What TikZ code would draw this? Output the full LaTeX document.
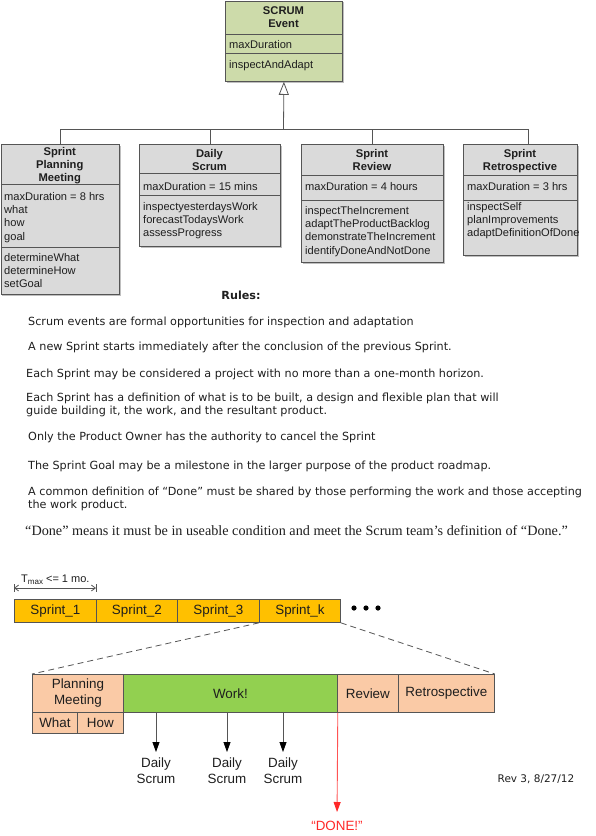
\documentclass[tikz,border=0pt]{standalone}
\usepackage{fontspec}
\setmainfont{Liberation Sans}
\newfontfamily\verdfont{DejaVu Sans}
\newfontfamily\cambfont{Liberation Serif}
\usetikzlibrary{arrows.meta,shadows}
\definecolor{evgreen}{RGB}{205,219,170}
\definecolor{umlgray}{RGB}{218,218,218}
\definecolor{bord}{RGB}{85,85,85}
\definecolor{txt}{RGB}{30,30,30}
\definecolor{sprintor}{RGB}{255,192,0}
\definecolor{peach}{RGB}{250,202,166}
\definecolor{workgreen}{RGB}{146,208,80}
\definecolor{donered}{RGB}{255,40,40}
\begin{document}
\begin{tikzpicture}[x=1pt,y=-1pt,
 umlbox/.style={draw=bord, line width=0.8pt, rectangle, inner sep=0, anchor=north west,
   drop shadow={shadow xshift=1.2pt, shadow yshift=-1.2pt, fill=black, opacity=0.25}},
 ut/.style={font=\fontsize{11.1}{13}\selectfont, inner sep=0, anchor=base west, text=txt},
 utb/.style={font=\bfseries\fontsize{11.2}{13}\selectfont, inner sep=0, anchor=base, text=txt},
 sepline/.style={draw=bord, line width=0.8pt},
 conn/.style={draw=bord, line width=0.8pt},
 rule/.style={font=\verdfont\fontsize{11.2}{13}\selectfont, inner sep=0, anchor=base west, text=txt},
 sprint/.style={draw=bord, line width=0.8pt, fill=sprintor, minimum height=23pt, inner sep=0,
   anchor=north west, font=\fontsize{13.4}{16}\selectfont, text=txt},
 phase/.style={draw=bord, line width=0.8pt, fill=peach, inner sep=0, anchor=north west,
   font=\fontsize{13.4}{16}\selectfont, align=center, text=txt},
 dslabel/.style={font=\fontsize{13.4}{16}\selectfont, align=center, inner sep=0, anchor=north, text=txt},
 dsarrow/.style={draw=bord, line width=0.8pt, shorten >=6pt, -{Triangle[length=10pt,width=7pt,color=black]}},
 dashconn/.style={draw=bord, line width=0.8pt, dash pattern=on 6pt off 4pt}
]
\useasboundingbox (0,0) rectangle (595,836);

% ---------- UML boxes ----------
\node[umlbox, fill=evgreen, minimum width=117pt, minimum height=80.5pt] (event) at (225,0.5) {};
\node[umlbox, fill=umlgray, minimum width=118.5pt, minimum height=150pt] (plan) at (0.5,144) {};
\node[umlbox, fill=umlgray, minimum width=141pt, minimum height=102pt] (daily) at (139,144) {};
\node[umlbox, fill=umlgray, minimum width=142pt, minimum height=118pt] (review) at (301,144) {};
\node[umlbox, fill=umlgray, minimum width=114pt, minimum height=111pt] (retro) at (463,144) {};

% separators
\draw[sepline] (event.west |- 0,34) -- (event.east |- 0,34);
\draw[sepline] (event.west |- 0,53) -- (event.east |- 0,53);
\draw[sepline] (plan.west |- 0,184) -- (plan.east |- 0,184);
\draw[sepline] (plan.west |- 0,247) -- (plan.east |- 0,247);
\draw[sepline] (daily.west |- 0,173) -- (daily.east |- 0,173);
\draw[sepline] (daily.west |- 0,195) -- (daily.east |- 0,195);
\draw[sepline] (review.west |- 0,175) -- (review.east |- 0,175);
\draw[sepline] (review.west |- 0,200) -- (review.east |- 0,200);
\draw[sepline] (retro.west |- 0,175) -- (retro.east |- 0,175);
\draw[sepline] (retro.west |- 0,200) -- (retro.east |- 0,200);

% event texts
\node[utb] (evt1) at (283.5,14) {SCRUM};
\node[utb] (evt2) at (283.5,27) {Event};
\node[ut] (eva1) at (229,48) {maxDuration};
\node[ut] (evo1) at (229,68) {inspectAndAdapt};

% planning texts
\node[utb] (plt1) at (59.75,155) {Sprint};
\node[utb] (plt2) at (59.75,168.3) {Planning};
\node[utb] (plt3) at (59.75,181.6) {Meeting};
\node[ut] (pla1) at (4,200) {maxDuration = 8 hrs};
\node[ut] (pla2) at (4,213.3) {what};
\node[ut] (pla3) at (4,226.6) {how};
\node[ut] (pla4) at (4,240) {goal};
\node[ut] (plo1) at (4,261) {determineWhat};
\node[ut] (plo2) at (4,274.3) {determineHow};
\node[ut] (plo3) at (4,287.6) {setGoal};

% daily texts
\node[utb] (dat1) at (209.5,157) {Daily};
\node[utb] (dat2) at (209.5,170) {Scrum};
\node[ut] (daa1) at (143,190) {maxDuration = 15 mins};
\node[ut] (dao1) at (143,210) {inspectyesterdaysWork};
\node[ut] (dao2) at (143,223.3) {forecastTodaysWork};
\node[ut] (dao3) at (143,236.6) {assessProgress};

% review texts
\node[utb] (rvt1) at (372,157) {Sprint};
\node[utb] (rvt2) at (372,170) {Review};
\node[ut] (rva1) at (305,190) {maxDuration = 4 hours};
\node[ut] (rvo1) at (305,214) {inspectTheIncrement};
\node[ut] (rvo2) at (305,227.3) {adaptTheProductBacklog};
\node[ut] (rvo3) at (305,240.6) {demonstrateTheIncrement};
\node[ut] (rvo4) at (305,254) {identifyDoneAndNotDone};

% retro texts
\node[utb] (rtt1) at (520,157) {Sprint};
\node[utb] (rtt2) at (520,170) {Retrospective};
\node[ut] (rta1) at (467,190) {maxDuration = 3 hrs};
\node[ut] (rto1) at (467,210) {inspectSelf};
\node[ut] (rto2) at (467,223.3) {planImprovements};
\node[ut] (rto3) at (467,236.6) {adaptDefinitionOfDone};

% inheritance connectors
\coordinate (bus) at (283.5,129);
\coordinate (rdrop) at (528,144);
\draw[conn] (plan.north) -- (plan.north |- bus) -- (rdrop |- bus) -- (rdrop);
\draw[conn] (daily.north) -- (daily.north |- bus);
\draw[conn] (review.north) -- (review.north |- bus);
\draw[conn, -{Triangle[open, length=13pt, width=10pt, fill=white]}] (bus) -- (event.south);

% ---------- Rules ----------
\node[font=\verdfont\bfseries\fontsize{11.2}{13}\selectfont, inner sep=0, anchor=base, text=txt] (rules) at (241,299) {Rules:};
\node[rule] (r1) at (28,325) {Scrum events are formal opportunities for inspection and adaptation};
\node[rule] (r2) at (28,350) {A new Sprint starts immediately after the conclusion of the previous Sprint.};
\node[rule] (r3) at (26,377) {Each Sprint may be considered a project with no more than a one-month horizon.};
\node[rule] (r4) at (26,401) {Each Sprint has a definition of what is to be built, a design and flexible plan that will};
\node[rule] (r5) at (26,414) {guide building it, the work, and the resultant product.};
\node[rule] (r6) at (28,440) {Only the Product Owner has the authority to cancel the Sprint};
\node[rule] (r7) at (28,469) {The Sprint Goal may be a milestone in the larger purpose of the product roadmap.};
\node[rule] (r8) at (28,495) {A common definition of “Done” must be shared by those performing the work and those accepting};
\node[rule] (r9) at (28,508) {the work product.};
\node[font=\cambfont\fontsize{14.2}{16}\selectfont, inner sep=0, anchor=base west, text=txt] (r10) at (25,535) {“Done” means it must be in useable condition and meet the Scrum team’s definition of “Done.”};

% ---------- Sprint bar ----------
\node[sprint, minimum width=82pt] (s1) at (14,599) {Sprint\_1};
\node[sprint, minimum width=81pt] (s2) at (96,599) {Sprint\_2};
\node[sprint, minimum width=82pt] (s3) at (177,599) {Sprint\_3};
\node[sprint, minimum width=81pt] (sk) at (259,599) {Sprint\_k};
\fill[black] (354,608) circle (2.6pt) (366,608) circle (2.6pt) (378,608) circle (2.6pt);

% Tmax dimension
\coordinate (tm1) at (14,588);
\coordinate (tm2) at (96,588);
\draw[conn, {Straight Barb[length=4pt,width=6pt]}-{Straight Barb[length=4pt,width=6pt]}] (tm1) -- (tm2);
\draw[conn] ([yshift=4pt]tm1) -- ([yshift=-4pt]tm1);
\draw[conn] ([yshift=4pt]tm2) -- ([yshift=-4pt]tm2);
\node[font=\fontsize{11}{13}\selectfont, inner sep=0, anchor=base west, text=txt] (tmax) at (21,582)
  {T\raisebox{-2pt}{\fontsize{8}{8}\selectfont max} <= 1 mo.};

% ---------- Sprint phases ----------
\node[phase, minimum width=91pt, minimum height=38pt] (pplan) at (32,674) {Planning\\Meeting};
\node[phase, minimum width=45pt, minimum height=21pt] (pwhat) at (32,712) {What};
\node[phase, minimum width=46pt, minimum height=21pt] (phow) at (77,712) {How};
\node[phase, fill=workgreen, minimum width=214pt, minimum height=38pt] (pwork) at (123,674) {Work!};
\node[phase, minimum width=61pt, minimum height=38pt] (prev) at (337,674) {Review};
\node[phase, minimum width=96pt, minimum height=38pt] (pretro) at (398,674) {Retrospective};

\draw[dashconn] (sk.south west) -- (pplan.north west);
\draw[dashconn] (sk.south east) -- (pretro.north east);

% Daily scrums
\node[dslabel] (ds1) at (156,758) {Daily\\Scrum};
\node[dslabel] (ds2) at (227,758) {Daily\\Scrum};
\node[dslabel] (ds3) at (283,758) {Daily\\Scrum};
\draw[dsarrow] (ds1.north |- pwork.south) -- (ds1.north);
\draw[dsarrow] (ds2.north |- pwork.south) -- (ds2.north);
\draw[dsarrow] (ds3.north |- pwork.south) -- (ds3.north);

% Done
\node[font=\fontsize{13.4}{16}\selectfont, inner sep=0, anchor=north, text=donered] (done) at (337,821) {“DONE!”};
\draw[draw=donered!80, line width=0.9pt, shorten >=9pt, -{Triangle[length=10pt,width=7pt,color=donered]}] (pwork.south east) -- (done.north);

% Revision
\node[font=\verdfont\fontsize{10.5}{12}\selectfont, inner sep=0, text=txt] (rev) at (536,779) {Rev 3, 8/27/12};
\end{tikzpicture}
\end{document}
